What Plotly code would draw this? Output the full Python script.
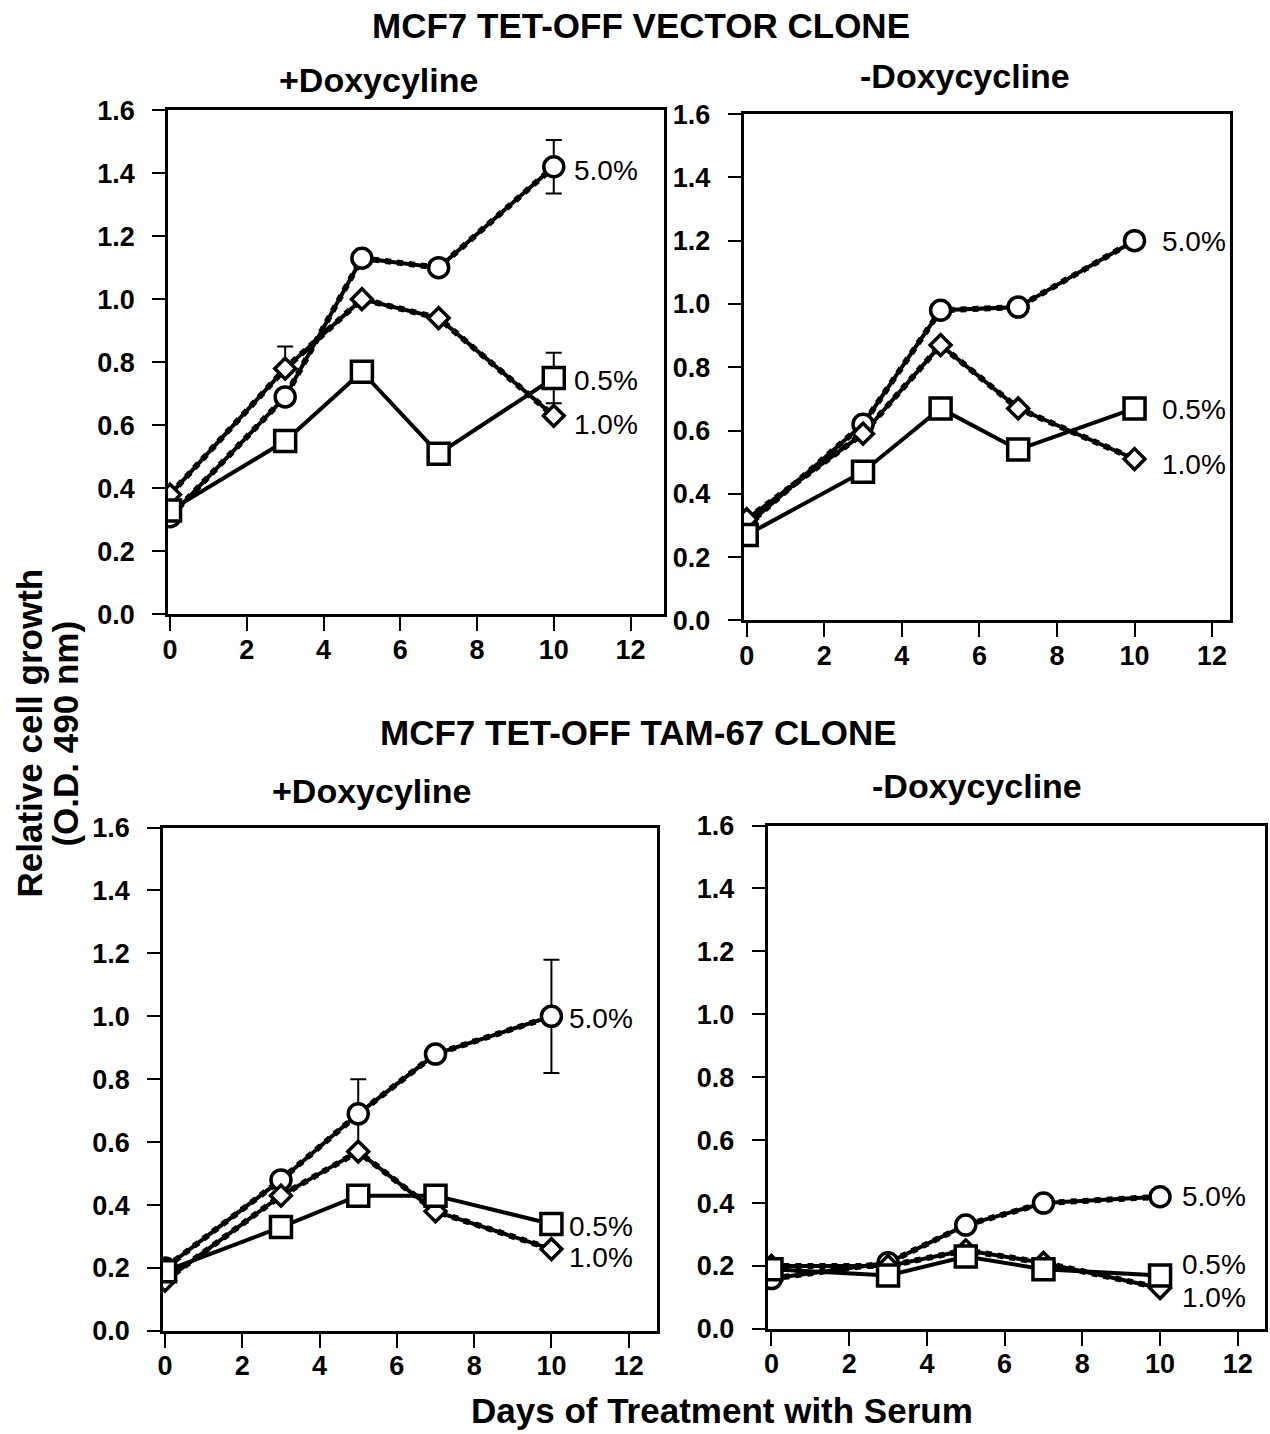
import plotly.graph_objects as go

# Days of serum treatment sampled in every panel
DAYS = [0, 3, 5, 7, 10]
SERUM_LABELS = ["5.0%", "1.0%", "0.5%"]
Y_TICKS = [0.0, 0.2, 0.4, 0.6, 0.8, 1.0, 1.2, 1.4, 1.6]
X_TICKS = [0, 2, 4, 6, 8, 10, 12]

# MCF7 Tet-Off vector clone, +Doxycyline
vec_plus_50 = [0.31, 0.69, 1.13, 1.10, 1.42]
vec_plus_10 = [0.38, 0.78, 1.00, 0.94, 0.63]
vec_plus_05 = [0.33, 0.55, 0.77, 0.51, 0.75]
vec_plus_50_err = [0, 0, 0, 0, 0.085]
vec_plus_10_err = [0, 0.07, 0, 0, 0]
vec_plus_05_err = [0, 0, 0, 0, 0.08]

# MCF7 Tet-Off vector clone, -Doxycycline
vec_minus_50 = [0.30, 0.62, 0.98, 0.99, 1.20]
vec_minus_10 = [0.32, 0.59, 0.87, 0.67, 0.51]
vec_minus_05 = [0.27, 0.47, 0.67, 0.54, 0.67]

# MCF7 Tet-Off TAM-67 clone, +Doxycyline
tam_plus_50 = [0.20, 0.48, 0.69, 0.88, 1.00]
tam_plus_10 = [0.16, 0.43, 0.57, 0.38, 0.26]
tam_plus_05 = [0.19, 0.33, 0.43, 0.43, 0.34]
tam_plus_50_err = [0, 0, 0.11, 0, 0.18]

# MCF7 Tet-Off TAM-67 clone, -Doxycycline
tam_minus_50 = [0.16, 0.21, 0.33, 0.40, 0.42]
tam_minus_10 = [0.20, 0.20, 0.25, 0.21, 0.13]
tam_minus_05 = [0.19, 0.17, 0.23, 0.19, 0.17]

W, H = 1270, 1434
FONT = "Liberation Sans, Arial, Helvetica, sans-serif"

# page placement: pixel positions are mapped onto paper fractions with a
# small inset/scale so the figure sits where the page capture expects it
X_OFF, X_SCALE = 5.0, 0.9945
Y_OFF, Y_SCALE = 15.0, 0.9784


def px_x(v):
    return ((v - X_OFF) / X_SCALE) / W


def px_y(v):
    return 1 - ((v - Y_OFF) / Y_SCALE) / H


# panel frames in pixels: (left, right, top, bottom) and x range
panels = [
    dict(frame=(167, 662, 110, 614), xr=[-0.05, 12.86]),
    dict(frame=(742, 1228, 114, 620), xr=[-0.08, 12.46]),
    dict(frame=(162, 655, 827, 1330), xr=[-0.05, 12.72]),
    dict(frame=(766, 1263, 825, 1328), xr=[-0.10, 12.70]),
]

panel_series = [
    [(vec_plus_50, vec_plus_50_err, vec_plus_50_err),
     (vec_plus_10, vec_plus_10_err, [0] * 5),
     (vec_plus_05, vec_plus_05_err, vec_plus_05_err)],
    [(vec_minus_50, None, None),
     (vec_minus_10, None, None),
     (vec_minus_05, None, None)],
    [(tam_plus_50, tam_plus_50_err, tam_plus_50_err),
     (tam_plus_10, None, None),
     (tam_plus_05, None, None)],
    [(tam_minus_50, None, None),
     (tam_minus_10, None, None),
     (tam_minus_05, None, None)],
]

# label offsets (x shift, y shifts per serum level) for the end-of-line labels
label_shift = [
    (18, [-4, -9, -2]),
    (25, [-1, -5, -1]),
    (16, [-2, -8, -3]),
    (20, [0, -9, 11]),
]

symbols = ["circle", "diamond", "square"]
sizes = [20, 16, 21]
dotted = [True, True, False]

fig = go.Figure()
layout = dict(
    width=W, height=H, margin=dict(l=0, r=0, t=0, b=0),
    paper_bgcolor="white", plot_bgcolor="white", showlegend=False,
    font=dict(family=FONT, color="black"),
)

annotations = []
for i, p in enumerate(panels):
    n = "" if i == 0 else str(i + 1)
    xa, ya = "x" + n, "y" + n
    l, r, t, b = p["frame"]
    layout["xaxis" + n] = dict(
        domain=[px_x(l), px_x(r)], range=p["xr"], anchor=ya,
        tickvals=X_TICKS, ticks="outside", ticklen=14, tickwidth=2,
        tickcolor="black", showline=True, linecolor="black", linewidth=3,
        mirror=True, showgrid=False, zeroline=False, ticklabelstandoff=-5,
        tickfont=dict(family=FONT, size=27, color="black", weight="bold"),
    )
    layout["yaxis" + n] = dict(
        domain=[px_y(b), px_y(t)], range=[0, 1.6], anchor=xa,
        tickvals=Y_TICKS, tickformat=".1f", ticks="outside", ticklen=13,
        tickwidth=2, tickcolor="black", showline=True, linecolor="black",
        linewidth=3, mirror=True, showgrid=False, zeroline=False,
        ticklabelstandoff=12,
        tickfont=dict(family=FONT, size=27, color="black", weight="bold"),
    )

    series = panel_series[i]
    # hatched shadow lines under the 5.0% and 1.0% curves
    for k, (vals, _, _) in enumerate(series):
        if dotted[k]:
            fig.add_trace(go.Scatter(
                x=DAYS, y=vals, xaxis=xa, yaxis=ya, mode="lines",
                line=dict(color="black", width=6, dash="dot"),
                hoverinfo="skip"))
    # solid connecting lines
    for k, (vals, _, _) in enumerate(series):
        fig.add_trace(go.Scatter(
            x=DAYS, y=vals, xaxis=xa, yaxis=ya, mode="lines",
            line=dict(color="black", width=4), hoverinfo="skip"))
    # open markers with error bars
    for k, (vals, eplus, eminus) in enumerate(series):
        tr = dict(
            x=DAYS, y=vals, xaxis=xa, yaxis=ya, mode="markers",
            name=SERUM_LABELS[k],
            marker=dict(symbol=symbols[k], size=sizes[k], color="white",
                        line=dict(color="black", width=3.5)),
        )
        if eplus is not None:
            tr["error_y"] = dict(type="data", array=eplus,
                                 arrayminus=eminus, symmetric=False,
                                 color="black", thickness=2, width=8)
        fig.add_trace(go.Scatter(**tr))

    xs, yshifts = label_shift[i]
    for k, (vals, _, _) in enumerate(series):
        annotations.append(dict(
            x=DAYS[-1], y=vals[-1], xref=xa, yref=ya, text=SERUM_LABELS[k],
            showarrow=False, xanchor="left", yanchor="middle",
            xshift=xs, yshift=yshifts[k],
            font=dict(family=FONT, size=28, color="black")))

# headings and axis titles
titles = [
    ("MCF7 TET-OFF VECTOR CLONE", 640, 25, 35),
    ("+Doxycyline", 377, 80, 34),
    ("-Doxycycline", 963, 76, 34),
    ("MCF7 TET-OFF TAM-67 CLONE", 637, 732, 35),
    ("+Doxycyline", 370, 790, 34),
    ("-Doxycycline", 975, 785, 34),
    ("Days of Treatment with Serum", 720, 1410, 35),
]
for text, cx, cy, sz in titles:
    annotations.append(dict(
        x=px_x(cx), y=px_y(cy), xref="paper", yref="paper", text=text,
        showarrow=False, xanchor="center", yanchor="middle",
        font=dict(family=FONT, size=sz, color="black", weight="bold")))

for text, cx in (("Relative cell growth", 28), ("(O.D. 490 nm)", 64)):
    annotations.append(dict(
        x=px_x(cx), y=px_y(733), xref="paper", yref="paper",
        text=text, textangle=-90,
        showarrow=False, xanchor="center", yanchor="middle",
        font=dict(family=FONT, size=35, color="black", weight="bold")))

layout["annotations"] = annotations
fig.update_layout(**layout)
fig.write_html("out.html")
